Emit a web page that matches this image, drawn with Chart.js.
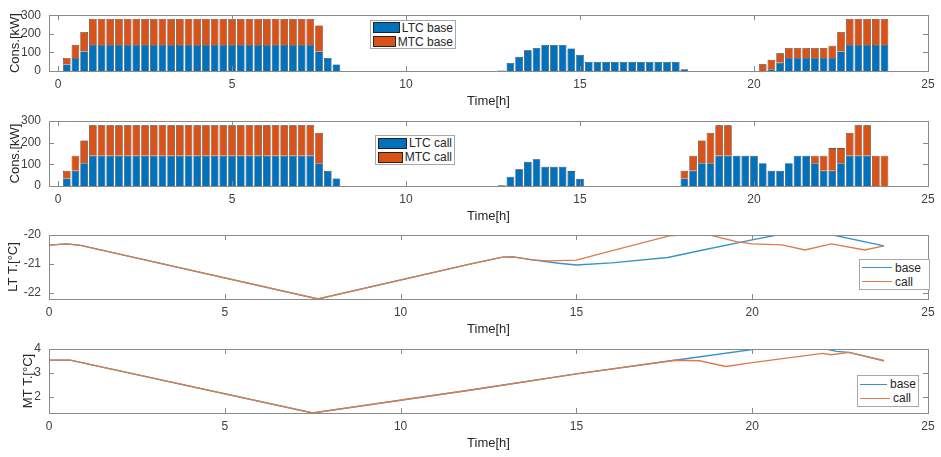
<!DOCTYPE html>
<html>
<head>
<meta charset="utf-8">
<script src="https://cdn.jsdelivr.net/npm/chart.js@4.4.1/dist/chart.umd.min.js"></script>
<style>
    body { margin: 0; background: #fff; }
    #wrap { position: relative; width: 941px; height: 457px; overflow: hidden; }
    #wrap canvas { position: absolute; left: 0; top: 0; }
    .legend {
        position: absolute; box-sizing: border-box; background: #fff;
        border: 1px solid #a8a8a8; font: 12px "Liberation Sans", Arial, sans-serif; color: #262626;
        display: flex; flex-direction: column; justify-content: center; padding: 0 2px;
    }
    .legend .row { display: flex; align-items: center; height: 14px; white-space: nowrap; }
    .legend .patch { width: 31px; height: 11px; border: 1px solid #222; box-sizing: border-box; margin-right: 2px; }
    .legend .line { width: 30px; height: 0; border-top: 1.3px solid; margin-right: 3px; }
</style>
</head>
<body>
<div id="wrap">
    <canvas id="c1" width="941" height="457"></canvas>
    <canvas id="c2" width="941" height="457"></canvas>
    <canvas id="c3" width="941" height="457"></canvas>
    <canvas id="c4" width="941" height="457"></canvas>
</div>
<script>
// -----------------------------------------------------------------------------
// data (15 min slots, hours)
// -----------------------------------------------------------------------------
const slotHours = [
    0.25, 0.5, 0.75, 1, 1.25, 1.5, 1.75, 2,
    2.25, 2.5, 2.75, 3, 3.25, 3.5, 3.75, 4,
    4.25, 4.5, 4.75, 5, 5.25, 5.5, 5.75, 6,
    6.25, 6.5, 6.75, 7, 7.25, 7.5, 7.75, 8,
    8.25, 8.5, 8.75, 9, 9.25, 9.5, 9.75, 10,
    10.25, 10.5, 10.75, 11, 11.25, 11.5, 11.75, 12,
    12.25, 12.5, 12.75, 13, 13.25, 13.5, 13.75, 14,
    14.25, 14.5, 14.75, 15, 15.25, 15.5, 15.75, 16,
    16.25, 16.5, 16.75, 17, 17.25, 17.5, 17.75, 18,
    18.25, 18.5, 18.75, 19, 19.25, 19.5, 19.75, 20,
    20.25, 20.5, 20.75, 21, 21.25, 21.5, 21.75, 22,
    22.25, 22.5, 22.75, 23, 23.25, 23.5, 23.75
];

const ltcBase = [
    35, 70, 105, 140, 140, 140, 140, 140,
    140, 140, 140, 140, 140, 140, 140, 140,
    140, 140, 140, 140, 140, 140, 140, 140,
    140, 140, 140, 140, 140, 105, 70, 35,
    0, 0, 0, 0, 0, 0, 0, 0,
    0, 0, 0, 0, 0, 0, 0, 0,
    0, 0, 3, 43, 76, 111, 124, 140,
    140, 140, 121, 87, 49, 49, 49, 49,
    49, 49, 49, 49, 49, 49, 49, 10,
    0, 0, 0, 0, 0, 0, 0, 0,
    0, 10, 44, 70, 70, 70, 70, 70,
    70, 105, 140, 140, 140, 140, 140
];

const mtcBase = [
    35, 70, 105, 140, 140, 140, 140, 140,
    140, 140, 140, 140, 140, 140, 140, 140,
    140, 140, 140, 140, 140, 140, 140, 140,
    140, 140, 140, 140, 140, 140, 0, 0,
    0, 0, 0, 0, 0, 0, 0, 0,
    0, 0, 0, 0, 0, 0, 0, 0,
    0, 0, 0, 0, 0, 0, 0, 0,
    0, 0, 0, 0, 0, 0, 0, 0,
    0, 0, 0, 0, 0, 0, 0, 0,
    0, 0, 0, 0, 0, 0, 0, 0,
    36, 50, 51, 54, 54, 54, 54, 54,
    66, 105, 140, 140, 140, 140, 140
];

const ltcCall = [
    35, 70, 105, 140, 140, 140, 140, 140,
    140, 140, 140, 140, 140, 140, 140, 140,
    140, 140, 140, 140, 140, 140, 140, 140,
    140, 140, 140, 140, 140, 105, 70, 35,
    0, 0, 0, 0, 0, 0, 0, 0,
    0, 0, 0, 0, 0, 0, 0, 0,
    0, 0, 3, 43, 77, 112, 123, 89,
    89, 89, 69, 34, 0, 0, 0, 0,
    0, 0, 0, 0, 0, 0, 0, 35,
    70, 105, 105, 140, 140, 140, 140, 140,
    105, 70, 70, 105, 140, 140, 105, 70,
    70, 105, 140, 140, 140, 0, 0
];

const mtcCall = [
    35, 70, 105, 140, 140, 140, 140, 140,
    140, 140, 140, 140, 140, 140, 140, 140,
    140, 140, 140, 140, 140, 140, 140, 140,
    140, 140, 140, 140, 140, 140, 0, 0,
    0, 0, 0, 0, 0, 0, 0, 0,
    0, 0, 0, 0, 0, 0, 0, 0,
    0, 0, 0, 0, 0, 0, 0, 0,
    0, 0, 0, 0, 0, 0, 0, 0,
    0, 0, 0, 0, 0, 0, 0, 35,
    70, 105, 140, 140, 140, 0, 0, 0,
    0, 0, 0, 0, 0, 0, 35, 70,
    105, 70, 105, 140, 140, 140, 140
];

// LT temperature [°C]
const ltBaseHours = [0, 0.5, 0.9, 7.65, 12.0, 12.9, 13.2, 13.75, 14.5, 15.0, 16.0, 17.6, 18.6, 20.0, 20.7, 22.3, 23.75];
const ltBaseTemp  = [-20.35, -20.31, -20.36, -22.22, -21.0, -20.77, -20.76, -20.86, -20.98, -21.04, -20.97, -20.78, -20.52, -20.17, -20.0, -20.0, -20.38];
const ltCallHours = [0, 0.5, 0.9, 7.65, 12.0, 12.9, 13.2, 13.75, 14.2, 15.0, 15.75, 17.64, 18.0, 18.8, 19.55, 20.0, 20.85, 21.5, 22.25, 23.2, 23.75];
const ltCallTemp  = [-20.35, -20.31, -20.36, -22.22, -21.0, -20.77, -20.76, -20.86, -20.9, -20.87, -20.63, -20.03, -20.0, -20.0, -20.23, -20.31, -20.34, -20.52, -20.31, -20.52, -20.38];

// MT temperature [°C]
const mtBaseHours = [0, 0.6, 0.8, 7.5, 12.0, 15.0, 17.8, 20.1, 22.1, 22.4, 22.75, 23.75];
const mtBaseTemp  = [3.54, 3.54, 3.47, 1.33, 2.29, 2.96, 3.53, 4.0, 4.0, 3.9, 3.86, 3.51];
const mtCallHours = [0, 0.6, 0.8, 7.5, 12.0, 15.0, 17.8, 18.5, 19.25, 20.0, 22.0, 22.25, 22.75, 23.75];
const mtCallTemp  = [3.54, 3.54, 3.47, 1.33, 2.29, 2.96, 3.53, 3.51, 3.27, 3.43, 3.82, 3.76, 3.86, 3.51];

const xTicks = [0, 5, 10, 15, 20, 25];
const consTicks = [0, 100, 200, 300];
const ltTicks = [-22, -21, -20];
const mtTicks = [2, 3, 4];

// -----------------------------------------------------------------------------
// styles
// -----------------------------------------------------------------------------
const BLUE = "#0072BD";
const ORANGE = "#D95319";
const LINE_BLUE = "#3a92c6";
const LINE_ORANGE = "#dd7b4a";
const AXIS = "#8a8a8a";
const FONT = '"Liberation Sans", Arial, Helvetica, sans-serif';
const H = 457;

Chart.defaults.font.family = FONT;
Chart.defaults.color = "#404040";

// box around the axes + inward tick marks (MATLAB look)
const framePlugin = {
    id: "frame",
    afterDatasetsDraw(chart) {
        const { ctx, chartArea: a, scales: { x, y } } = chart;
        ctx.save();
        ctx.strokeStyle = AXIS;
        ctx.lineWidth = 1;
        ctx.strokeRect(Math.round(a.left) + 0.5, Math.round(a.top) + 0.5,
            Math.round(a.right - a.left), Math.round(a.bottom - a.top));
        ctx.beginPath();
        x.ticks.forEach((t) => {
            const px = Math.round(x.getPixelForValue(t.value)) + 0.5;
            ctx.moveTo(px, a.bottom); ctx.lineTo(px, a.bottom - 5);
            ctx.moveTo(px, a.top); ctx.lineTo(px, a.top + 5);
        });
        y.ticks.forEach((t) => {
            const py = Math.round(y.getPixelForValue(t.value)) + 0.5;
            ctx.moveTo(a.left, py); ctx.lineTo(a.left + 5, py);
            ctx.moveTo(a.right, py); ctx.lineTo(a.right - 5, py);
        });
        ctx.stroke();
        ctx.restore();
    },
};

function xAxis(min, stacked) {
    return {
        type: "linear", min, max: 25, offset: false, stacked,
        grid: { display: false, drawTicks: false }, border: { display: false },
        ticks: { padding: 6, font: { size: 12 }, maxRotation: 0, autoSkip: false },
        afterBuildTicks: (s) => { s.ticks = xTicks.map((v) => ({ value: v })); },
        title: { display: true, text: "Time[h]", font: { size: 13 }, color: "#262626", padding: { top: 0, bottom: 2 } },
        afterFit: (s) => { s.height = 40; },
    };
}

function yAxis(min, max, tickList, label, titleCenter, stacked) {
    return {
        min, max, stacked,
        grid: { display: false, drawTicks: false }, border: { display: false },
        ticks: { padding: 8, font: { size: 12 } },
        afterBuildTicks: (s) => { s.ticks = tickList.map((v) => ({ value: v })); },
        title: { display: true, text: label, font: { size: 13 }, color: "#262626", padding: { top: titleCenter - 7.8, bottom: 0 } },
        afterFit: (s) => { s.width = 49; },
    };
}

function layoutFor(top, bottom) {
    return { padding: { top, bottom: H - bottom - 40, left: 0, right: 13 } };
}

// -----------------------------------------------------------------------------
// legend (HTML, built from the chart datasets)
// -----------------------------------------------------------------------------
function buildLegend(chart, box, kind) {
    const div = document.createElement("div");
    div.className = "legend";
    div.style.left = box.left + "px";
    div.style.top = box.top + "px";
    div.style.width = box.width + "px";
    div.style.height = box.height + "px";
    chart.data.datasets.forEach((ds) => {
        const row = document.createElement("div");
        row.className = "row";
        const mark = document.createElement("span");
        if (kind === "bar") {
            mark.className = "patch";
            mark.style.background = ds.backgroundColor;
        } else {
            mark.className = "line";
            mark.style.borderTopColor = ds.borderColor;
        }
        row.appendChild(mark);
        row.appendChild(document.createTextNode(ds.label));
        div.appendChild(row);
    });
    document.getElementById("wrap").appendChild(div);
}

// -----------------------------------------------------------------------------
// panels
// -----------------------------------------------------------------------------
function barPanel(id, ltc, mtc, tag, top, bottom, legendBox) {
    const chart = new Chart(document.getElementById(id), {
        type: "bar",
        data: {
            labels: slotHours,
            datasets: [
                { label: "LTC " + tag, data: ltc, backgroundColor: BLUE, borderColor: "#1c1c1c", borderWidth: 0.6 },
                { label: "MTC " + tag, data: mtc, backgroundColor: ORANGE, borderColor: "#1c1c1c", borderWidth: 0.6 },
            ],
        },
        options: {
            responsive: false, animation: false, devicePixelRatio: 1,
            layout: layoutFor(top, bottom),
            barPercentage: 0.88, categoryPercentage: 1.0,
            plugins: { legend: { display: false }, tooltip: { enabled: false } },
            scales: {
                x: xAxis(-0.26, true),
                y: yAxis(0, 300, consTicks, "Cons.[kW]", 15, true),
            },
        },
        plugins: [framePlugin],
    });
    buildLegend(chart, legendBox, "bar");
}

// later series drawn on top (call over base), like the original plot order
function linePanel(id, series, yMin, yMax, tickList, label, titleCenter, top, bottom, legendBox) {
    const chart = new Chart(document.getElementById(id), {
        type: "line",
        data: {
            datasets: series.map((s, i) => ({
                label: s.label,
                data: s.hours.map((h, j) => ({ x: h, y: s.temp[j] })),
                borderColor: s.color, borderWidth: 1.3,
                pointRadius: 0, tension: 0, fill: false,
                order: series.length - i,
            })),
        },
        options: {
            responsive: false, animation: false, devicePixelRatio: 1,
            layout: layoutFor(top, bottom),
            plugins: { legend: { display: false }, tooltip: { enabled: false } },
            scales: {
                x: xAxis(0, false),
                y: yAxis(yMin, yMax, tickList, label, titleCenter, false),
            },
        },
        plugins: [framePlugin],
    });
    buildLegend(chart, legendBox, "line");
}

barPanel("c1", ltcBase, mtcBase, "base", 7, 71, { left: 370, top: 20, width: 86, height: 29 });
barPanel("c2", ltcCall, mtcCall, "call", 121, 186, { left: 375, top: 135, width: 80, height: 30 });

linePanel("c3", [
    { label: "base", hours: ltBaseHours, temp: ltBaseTemp, color: LINE_BLUE },
    { label: "call", hours: ltCallHours, temp: ltCallTemp, color: LINE_ORANGE },
], -22.22, -20, ltTicks, "LT T.[°C]", 13, 235, 299, { left: 859, top: 259, width: 71, height: 31 });

linePanel("c4", [
    { label: "base", hours: mtBaseHours, temp: mtBaseTemp, color: LINE_BLUE },
    { label: "call", hours: mtCallHours, temp: mtCallTemp, color: LINE_ORANGE },
], 1.33, 4, mtTicks, "MT T.[°C]", 28, 349, 413, { left: 857, top: 375, width: 62, height: 32 });
</script>
</body>
</html>
